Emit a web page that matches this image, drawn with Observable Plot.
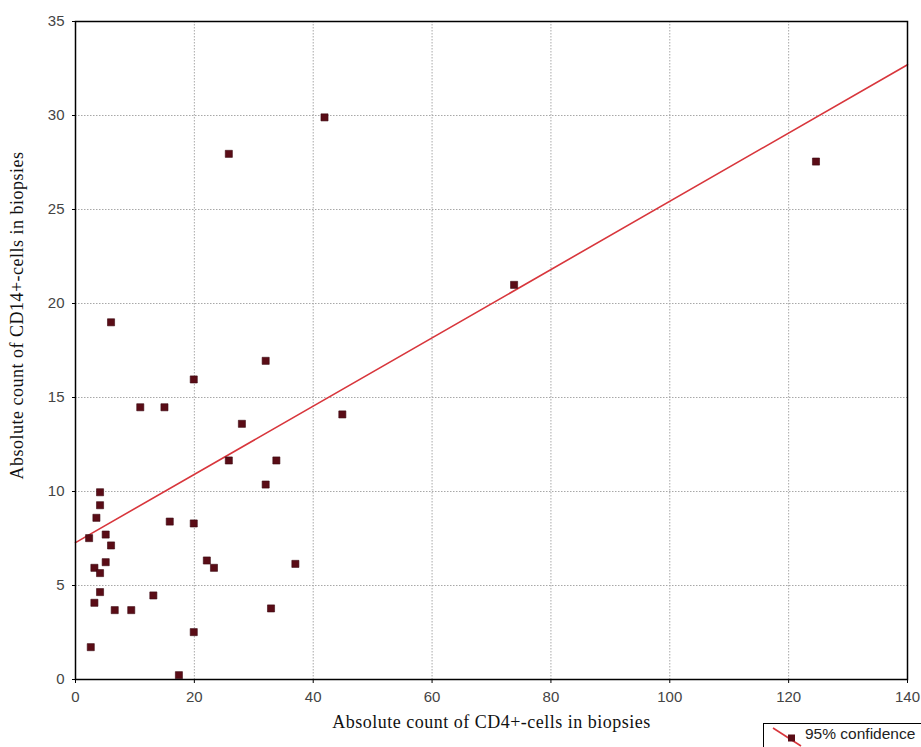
<!DOCTYPE html>
<html><head><meta charset="utf-8">
<script src="https://cdn.jsdelivr.net/npm/d3@7"></script>
<script src="https://cdn.jsdelivr.net/npm/@observablehq/plot@0.6"></script>
<style>
body{margin:0;background:#fff;}
#wrap{position:relative;width:921px;height:747px;overflow:hidden;background:#fff;}
#legend{position:absolute;left:763px;top:723px;width:175px;height:40px;border:1px solid #000;box-sizing:border-box;background:#fff;font:15.5px "Liberation Sans",Arial,sans-serif;color:#222;}
#legend svg{position:absolute;left:0;top:0;}
#legend span{position:absolute;left:41px;top:1px;white-space:nowrap;}
</style></head><body><div id="wrap"></div>
<script>
// CD4+ count (x) vs CD14+ count (y) in biopsies
const xValues = [5.98, 10.9, 14.97, 19.9, 28.0, 25.8, 4.13, 4.13, 3.52, 15.86, 19.9, 2.29, 5.08, 5.98, 5.08, 3.18, 4.13, 22.1, 23.3, 4.13, 3.18, 13.1, 6.6, 9.38, 19.9, 2.57, 17.4, 41.9, 25.8, 32.0, 44.9, 33.8, 32.0, 37.0, 32.9, 73.8, 124.6];
const yValues = [19.0, 14.48, 14.48, 15.96, 13.6, 11.65, 9.96, 9.27, 8.6, 8.4, 8.3, 7.52, 7.71, 7.13, 6.24, 5.94, 5.66, 6.33, 5.94, 4.65, 4.08, 4.47, 3.69, 3.69, 2.52, 1.72, 0.23, 29.9, 27.96, 16.95, 14.1, 11.65, 10.37, 6.15, 3.78, 20.99, 27.55];
// fitted regression line end points
const fitX = [0, 140];
const fitY = [7.28, 32.7];
const xTicks = [0, 20, 40, 60, 80, 100, 120, 140];
const yTicks = [0, 5, 10, 15, 20, 25, 30, 35];
const xTitle = "Absolute count of CD4+-cells in biopsies";
const yTitle = "Absolute count of CD14+-cells in biopsies";
const legendLabel = "95% confidence";

const points = xValues.map((x, i) => ({x, y: yValues[i]}));
const fit = fitX.map((x, i) => ({x, y: fitY[i]}));
const innerX = xTicks.filter(t => t > 0 && t < 140);
const innerY = yTicks.filter(t => t > 0 && t < 35);
const serif = "'Liberation Serif', 'Times New Roman', serif";

const chart = Plot.plot({
  width: 921, height: 747,
  marginLeft: 75, marginRight: 14, marginTop: 21, marginBottom: 68,
  x: {domain: [0, 140]},
  y: {domain: [0, 35]},
  style: {fontFamily: "'Liberation Sans', Arial, sans-serif", fontSize: "15px", color: "#444", background: "#fff"},
  marks: [
    Plot.gridX(innerX, {stroke: "#a8a8a8", strokeOpacity: 1, strokeDasharray: "1.5,1.5"}),
    Plot.gridY(innerY, {stroke: "#a8a8a8", strokeOpacity: 1, strokeDasharray: "1.5,1.5"}),
    Plot.axisX({ticks: xTicks, label: null, tickSize: 4, tickPadding: 8, stroke: "#000"}),
    Plot.axisY({ticks: yTicks, label: null, tickSize: 3, tickPadding: 8, stroke: "#000"}),
    Plot.line(fit, {x: "x", y: "y", stroke: "#d8363c", strokeWidth: 1.6}),
    Plot.dot(points, {x: "x", y: "y", symbol: "square", r: 4, fill: "#5a0c16", stroke: "#3a0810", strokeWidth: 0.6}),
    Plot.frame({stroke: "#000", strokeWidth: 1.5}),
    Plot.text([xTitle], {frameAnchor: "bottom", lineAnchor: "middle", textAnchor: "middle", dy: 43, fontFamily: serif, fontSize: 18, fill: "#111"}),
    Plot.text([yTitle], {frameAnchor: "left", lineAnchor: "middle", textAnchor: "middle", dx: -58, dy: -35, rotate: -90, fontFamily: serif, fontSize: 18, fill: "#111"})
  ]
});
d3.select(chart).selectAll("text")
  .filter(function () { return this.textContent === xTitle || this.textContent === yTitle; })
  .style("letter-spacing", "0.5px");
document.getElementById("wrap").appendChild(chart);

const leg = document.createElement("div");
leg.id = "legend";
leg.innerHTML = '<svg width="42" height="30"><line x1="9" y1="4" x2="37" y2="22" stroke="#d8363c" stroke-width="1.6"/><rect x="24" y="10.5" width="7" height="7" fill="#5a0c16"/></svg><span></span>';
leg.querySelector("span").textContent = legendLabel;
document.getElementById("wrap").appendChild(leg);
</script>
</body></html>
